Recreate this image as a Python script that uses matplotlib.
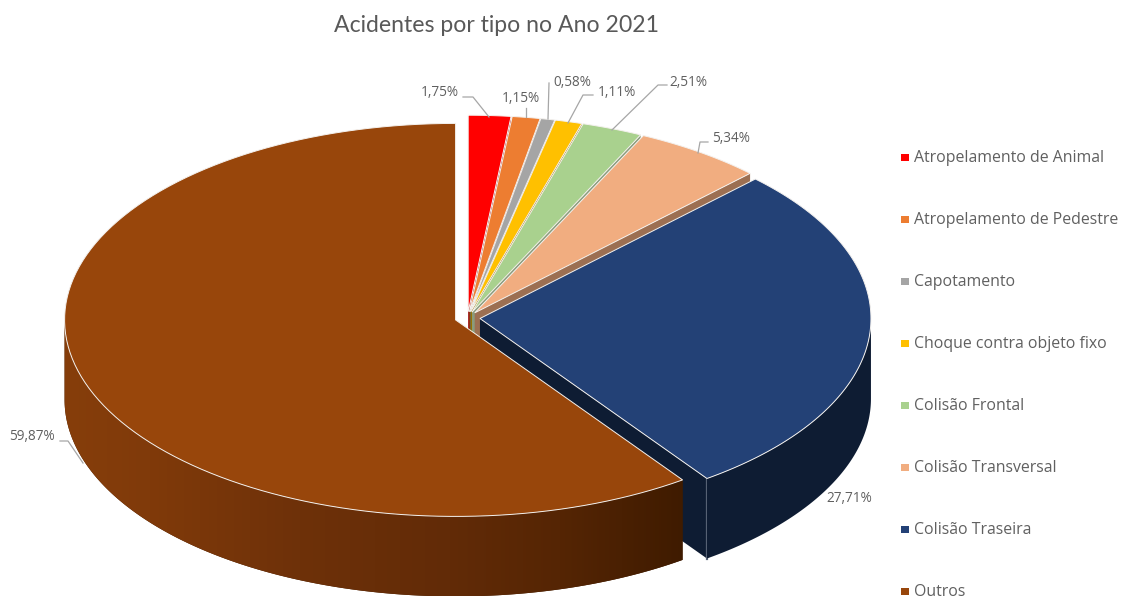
"""Pizza 3D de acidentes por tipo, com fatias destacadas."""

import matplotlib
matplotlib.use("Agg")
import matplotlib.pyplot as plt
import numpy as np
from matplotlib.patches import Polygon, Rectangle

plt.rcParams["font.family"] = ["Open Sans", "DejaVu Sans"]

categorias = ["Atropelamento de Animal", "Atropelamento de Pedestre", "Capotamento",
              "Choque contra objeto fixo", "Colisão Frontal", "Colisão Transversal",
              "Colisão Traseira", "Outros"]
valores = [1.75, 1.15, 0.58, 1.11, 2.51, 5.34, 27.71, 59.87]
cores = ["#ff0000", "#ed7d31", "#a5a5a5", "#ffc000", "#a9d18e", "#f1ad80", "#234176", "#98460b"]
cores_corte = ["#990000", "#8e4b1d", "#636363", "#997300", "#8a9c7c", "#9c6f52", "#0e1c33", "#3f1b00"]

# Geometria do disco, em pixels
CX, CY = 467.5, 318.0
RX, RY = 391.0, 196.5
PROF = 80.0
DESTAQUE = 12.5

# Rótulos: posição do texto e linha de chamada
pos_rotulos = [(440, 92), (521, 99), (572, 83), (617, 93), (688, 83), (731, 139), (849, 498), (32, 437)]
chamadas = [
    [(463, 97), (473, 97), (489, 117)],
    [(526, 108), (526, 117)],
    [(549, 83), (548, 119)],
    [(593, 95), (583, 95), (568, 123)],
    [(667, 85), (658, 85), (612, 130)],
    [(708, 142), (700, 142), (698, 153)],
    None,
    [(60, 441), (68, 441), (83, 463)],
]

# Degradê da lateral de "Outros" ao longo de x
grad_x = [64, 150, 300, 450, 560, 684]
grad_r = [0x86, 0x80, 0x6e, 0x62, 0x55, 0x3f]
grad_g = [0x3e, 0x3a, 0x31, 0x2b, 0x25, 0x1b]
grad_b = [0x0b, 0x0a, 0x09, 0x07, 0x04, 0x00]


def centro_fatia(ini, fim):
    meio = np.radians((ini + fim) / 2)
    return CX + DESTAQUE * np.sin(meio), CY - DESTAQUE * np.cos(meio) * RY / RX


def arco(cx, cy, ini, fim, n=120):
    t = np.radians(np.linspace(ini, fim, n))
    return np.column_stack([cx + RX * np.sin(t), cy - RY * np.cos(t)])


fig = plt.figure(figsize=(11.26, 5.96), dpi=100, facecolor="white")
ax = fig.add_axes([0, 0, 1, 1])

total = sum(valores)
limites = np.concatenate([[0], np.cumsum(valores)]) / total * 360

for i, (ini, fim) in enumerate(zip(limites[:-1], limites[1:])):
    cx, cy = centro_fatia(ini, fim)
    borda = arco(cx, cy, ini, fim)
    z = 1 + i

    # face do corte radial, visível só na borda final da fatia
    if fim < 180:
        p = borda[-1]
        ax.add_patch(Polygon([(cx, cy), p, (p[0], p[1] + PROF), (cx, cy + PROF)],
                             closed=True, fc=cores_corte[i], ec="none", zorder=z))
        if i == 6:
            ax.plot([p[0], p[0]], [p[1], p[1] + PROF], color="#5a6578", lw=1.6, zorder=z)

    # parede externa (metade da frente)
    a0, a1 = max(ini, 90), min(fim, 270)
    if a1 > a0:
        frente = arco(cx, cy, a0, a1, 240)
        parede = Polygon(np.vstack([frente, frente[::-1] + [0, PROF]]), closed=True,
                         fc=cores_corte[i], ec="none", zorder=z)
        ax.add_patch(parede)
        if i == 7:
            # degradê horizontal recortado pela parede
            xs = np.arange(grad_x[0], grad_x[-1] + 1)
            faixa = np.column_stack([np.interp(xs, grad_x, grad_r),
                                     np.interp(xs, grad_x, grad_g),
                                     np.interp(xs, grad_x, grad_b)]) / 255
            img = ax.imshow(faixa[np.newaxis, :, :], aspect="auto", zorder=z,
                            extent=(grad_x[0], grad_x[-1], 600, 300), interpolation="bilinear")
            img.set_clip_path(parede)

    # tampo da fatia
    ax.add_patch(Polygon(np.vstack([[(cx, cy)], borda]), closed=True,
                         fc=cores[i], ec="#f4f1ee", lw=0.7, zorder=z + 0.5))

# Linhas de chamada e rótulos de valor
for i, v in enumerate(valores):
    if chamadas[i] is not None:
        xs, ys = zip(*chamadas[i])
        ax.plot(xs, ys, color="#a6a6a6", lw=0.9, zorder=20)
    ax.text(pos_rotulos[i][0], pos_rotulos[i][1], f"{v:.2f}".replace(".", ",") + "%",
            ha="center", va="center", fontsize=9.8, color="#606060", zorder=21)

ax.text(496, 25, "Acidentes por tipo no Ano 2021", ha="center", va="center",
        fontsize=16.6, color="#595959", family=["Lato", "DejaVu Sans"])

# Legenda
LEG_Y0, LEG_DY = 157.5, 62
for i, nome in enumerate(categorias):
    y = LEG_Y0 + i * LEG_DY
    ax.add_patch(Rectangle((901, y - 3.5), 8, 7, fc=cores[i], ec="none", zorder=20))
    ax.text(914, y + 4.5, nome, ha="left", va="baseline", fontsize=11.4, color="#606060", zorder=21)

ax.set_xlim(0, 1126)
ax.set_ylim(596, 0)
ax.axis("off")

fig.savefig("out.png", dpi=100, facecolor="white")
plt.close(fig)
